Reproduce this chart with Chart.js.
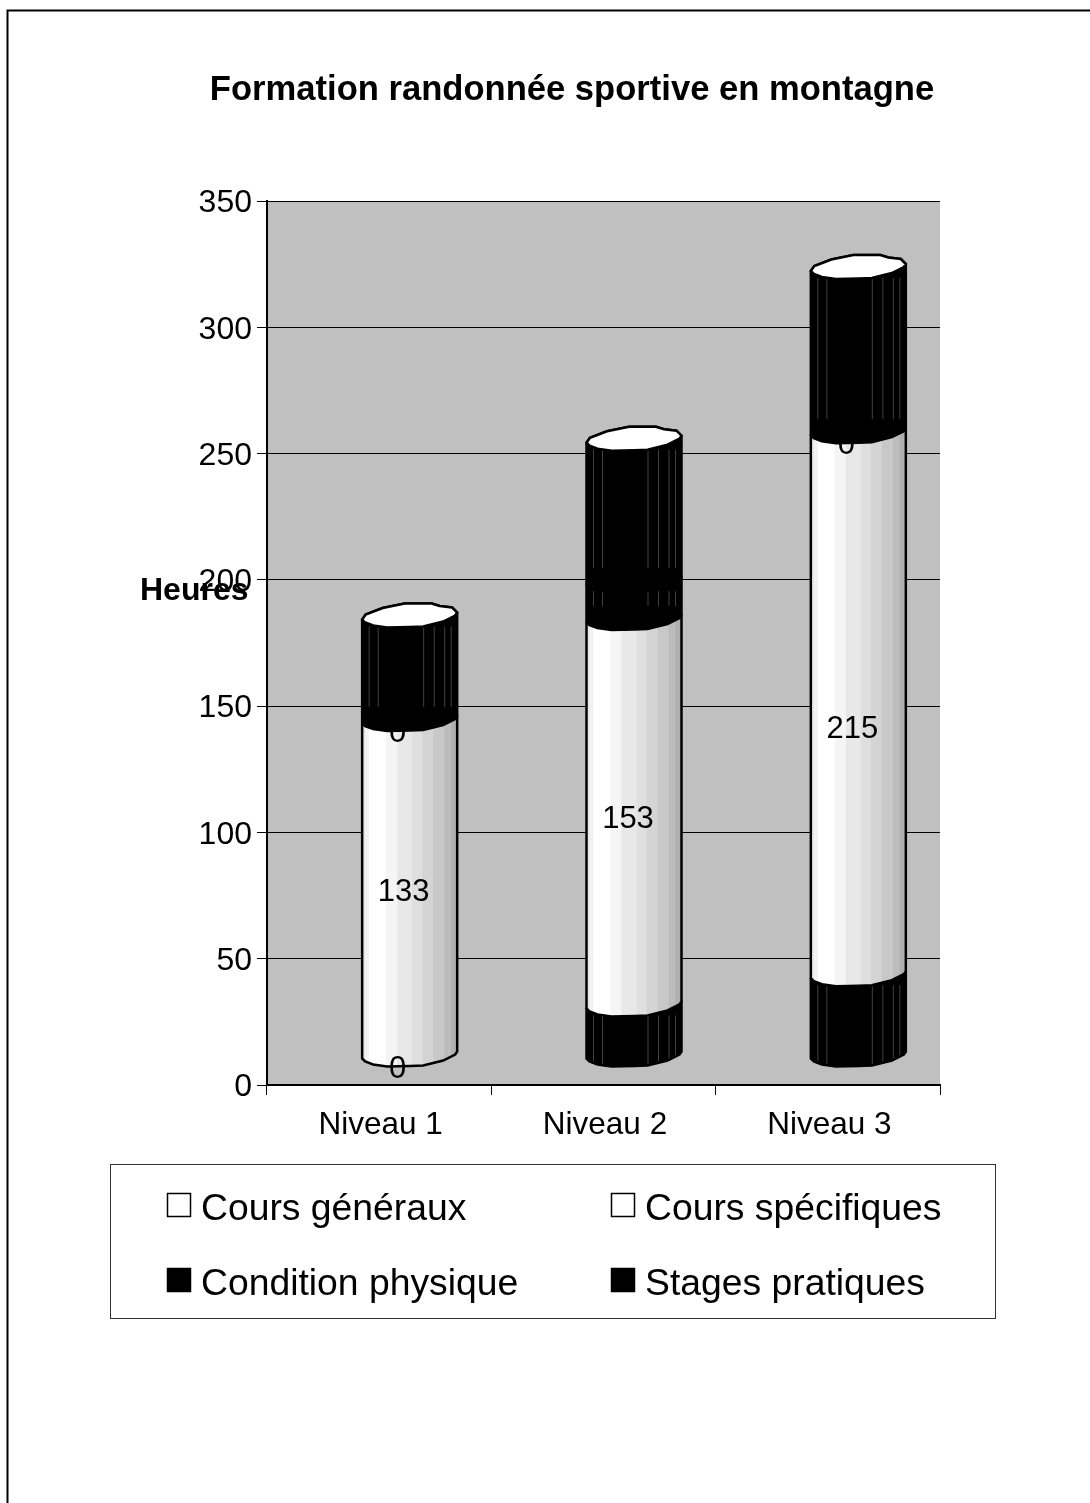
<!DOCTYPE html>
<html>
<head>
<meta charset="utf-8">
<title>Formation randonnée sportive en montagne</title>
<script src="https://cdn.jsdelivr.net/npm/chart.js@4"></script>
<style>
  html, body { margin: 0; padding: 0; background: #fff; }
  canvas { display: block; }
</style>
</head>
<body>
<canvas id="chart" width="1090" height="1503"></canvas>
<script>
const niveaux = ['Niveau 1', 'Niveau 2', 'Niveau 3'];
const seriesNames = ['Cours généraux', 'Cours spécifiques', 'Condition physique', 'Stages pratiques'];
const coursGeneraux = [0, 20, 32];
const coursSpecifiques = [133, 153, 215];
const conditionPhysique = [0, 15, 0];
const stagesPratiques = [41, 56, 65];
const yTicks = [0, 50, 100, 150, 200, 250, 300, 350];

const FONT = '"Liberation Sans", Arial, sans-serif';
const legendFill = ['#fff', '#fff', '#000', '#000'];
const segmentTone = ['black', 'white', 'black', 'black'];

// the 3D look: columns sit up and to the right of the axis
const DEPTH_X = 30.5;
const DEPTH_Y = -30;

// outline of the cap, from the reference, relative to a half width of 47.5
const capFront = [[-47.5, 4], [-44.5, 7], [-36.5, 10], [-22.5, 12], [0.5, 11.5], [13.5, 11], [33.5, 6], [45.5, 0], [47.5, -3]];
const capBack = [[47.5, -3], [42.5, -8], [30, -9.5], [22, -12], [-5, -12], [-27, -7.5], [-44, -1], [-47.5, 4]];

const whiteBands = [
  [-47.5, '#e8e8e8'], [-44.5, '#f2f2f2'], [-40.5, '#ffffff'], [-23.5, '#f5f5f5'], [-12.5, '#e8e8e8'],
  [2.5, '#dfdfdf'], [12.5, '#d4d4d4'], [23.5, '#c8c8c8'], [34.5, '#bcbcbc'], [41.5, '#b0b0b0']
];
const blackLines = [-41, -32, 13.5, 24, 34.5, 41];

function tracePoints(ctx, cx, cy, pts, first) {
  pts.forEach((p, i) => {
    if (i === 0 && first) ctx.moveTo(cx + p[0], cy + p[1]);
    else ctx.lineTo(cx + p[0], cy + p[1]);
  });
}

function drawSegment(ctx, bar, tone, isBottom) {
  const cx = bar.x + DEPTH_X;
  const top = bar.y + DEPTH_Y;
  const base = bar.base + DEPTH_Y;

  const body = () => {
    ctx.beginPath();
    tracePoints(ctx, cx, base, capFront, true);
    tracePoints(ctx, cx, top, capBack, false);
    ctx.closePath();
  };

  ctx.save();
  body();
  ctx.save();
  ctx.clip();
  if (tone === 'white') {
    whiteBands.forEach(b => {
      ctx.fillStyle = b[1];
      ctx.fillRect(cx + b[0], top - 15, 96, base - top + 30);
    });
  } else {
    ctx.fillStyle = '#000';
    ctx.fillRect(cx - 48, top - 15, 96, base - top + 30);
    ctx.strokeStyle = '#404040';
    ctx.lineWidth = 1;
    blackLines.forEach(dx => {
      ctx.beginPath();
      ctx.moveTo(cx + dx + 0.5, top + 11);
      ctx.lineTo(cx + dx + 0.5, isBottom ? base + 12 : base - 12);
      ctx.stroke();
    });
  }
  ctx.restore();
  body();
  ctx.strokeStyle = '#000';
  ctx.lineWidth = 2.5;
  ctx.stroke();
  ctx.restore();
}

function drawCap(ctx, bar) {
  const cx = bar.x + DEPTH_X;
  const top = bar.y + DEPTH_Y;
  ctx.beginPath();
  tracePoints(ctx, cx, top, capFront, true);
  tracePoints(ctx, cx, top, capBack, false);
  ctx.closePath();
  ctx.fillStyle = '#fff';
  ctx.fill();
  ctx.strokeStyle = '#000';
  ctx.lineWidth = 2.5;
  ctx.stroke();
}

const cylinders = {
  id: 'cylinders',
  beforeDatasetDraw() { return false; },
  afterDatasetsDraw(chart) {
    const ctx = chart.ctx;
    niveaux.forEach((_, c) => {
      let firstDone = false;
      let last = null;
      chart.data.datasets.forEach((ds, d) => {
        if (ds.data[c] === 0) return;
        const bar = chart.getDatasetMeta(d).data[c];
        drawSegment(ctx, bar, segmentTone[d], !firstDone);
        firstDone = true;
        last = bar;
      });
      drawCap(ctx, last);
    });

    // value labels, black on black for the dark segments like the reference
    ctx.save();
    ctx.font = '31px ' + FONT;
    ctx.fillStyle = '#000';
    ctx.textAlign = 'center';
    ctx.textBaseline = 'middle';
    chart.data.datasets.forEach((ds, d) => {
      ds.data.forEach((v, c) => {
        const bar = chart.getDatasetMeta(d).data[c];
        const mid = (bar.y + bar.base) / 2 + DEPTH_Y;
        const x = bar.x + DEPTH_X + (v === 0 ? -12 : -6);
        const y = mid + (v === 0 ? 14 : (v === 215 ? 27 : (v === 153 ? 8 : 6)));
        ctx.fillText(String(v), x, y);
      });
    });
    ctx.restore();
  }
};

const decorations = {
  id: 'decorations',
  // the y scale is kept narrow so the title stays centred where it should,
  // its tick labels must still be allowed to stick out on the left
  afterLayout(chart) {
    chart.scales.y.left = 180;
  },
  beforeDraw(chart) {
    const ctx = chart.ctx;
    const a = chart.chartArea;
    ctx.save();
    ctx.fillStyle = '#fff';
    ctx.fillRect(0, 0, chart.width, chart.height);
    // page frame, only top and left are visible
    ctx.strokeStyle = '#000';
    ctx.lineWidth = 2;
    ctx.beginPath();
    ctx.moveTo(7.5, chart.height);
    ctx.lineTo(7.5, 10.5);
    ctx.lineTo(chart.width, 10.5);
    ctx.stroke();
    ctx.fillStyle = '#c0c0c0';
    ctx.fillRect(a.left, a.top, a.right - a.left, a.bottom - a.top);
    ctx.restore();
  },
  afterDraw(chart) {
    const ctx = chart.ctx;
    ctx.save();
    // horizontal axis title
    ctx.font = 'bold 32px ' + FONT;
    ctx.fillStyle = '#000';
    ctx.textBaseline = 'middle';
    ctx.textAlign = 'left';
    ctx.fillText('Heures', 140, 591);

    // legend box
    ctx.strokeStyle = '#333';
    ctx.lineWidth = 1;
    ctx.strokeRect(110.5, 1164.5, 885, 154);
    ctx.font = '37.3px ' + FONT;
    seriesNames.forEach((name, i) => {
      const x = i % 2 === 0 ? 167 : 611;
      const y = i < 2 ? 1193 : 1268;
      ctx.fillStyle = legendFill[i];
      ctx.fillRect(x + 0.5, y + 0.5, 23, 23);
      ctx.strokeStyle = '#000';
      ctx.lineWidth = 1.5;
      ctx.strokeRect(x + 0.5, y + 0.5, 23, 23);
      ctx.fillStyle = '#000';
      ctx.fillText(name, x + 34, y + 17);
    });
    ctx.restore();
  }
};

new Chart(document.getElementById('chart'), {
  type: 'bar',
  data: {
    labels: niveaux,
    datasets: [coursGeneraux, coursSpecifiques, conditionPhysique, stagesPratiques].map((values, i) => ({
      label: seriesNames[i],
      data: values,
      categoryPercentage: 1,
      barPercentage: 0.424,
      backgroundColor: legendFill[i]
    }))
  },
  options: {
    responsive: false,
    animation: false,
    devicePixelRatio: 1,
    layout: { padding: { left: 204, right: 150, top: 70, bottom: 358 } },
    plugins: {
      legend: { display: false },
      tooltip: { enabled: false },
      title: {
        display: true,
        text: 'Formation randonnée sportive en montagne',
        color: '#000',
        font: { family: FONT, size: 34.6, weight: 'bold' },
        padding: { top: 0, bottom: 89.5 }
      }
    },
    scales: {
      x: {
        stacked: true,
        afterFit(scale) { scale.height = 60; },
        grid: { drawOnChartArea: false, color: '#000', tickLength: 10, tickWidth: 1 },
        border: { color: '#000', width: 2 },
        ticks: { color: '#000', font: { family: FONT, size: 31.5 }, padding: 11, maxRotation: 0, labelOffset: 1.5 }
      },
      y: {
        stacked: true,
        min: 0,
        max: 350,
        afterFit(scale) { scale.width = 63; },
        afterBuildTicks(scale) { scale.ticks = yTicks.map(v => ({ value: v })); },
        grid: { color: '#000', tickLength: 10, lineWidth: 1 },
        border: { color: '#000', width: 2 },
        ticks: { color: '#000', font: { family: FONT, size: 32 }, padding: 5, labelOffset: 2.5 }
      }
    }
  },
  plugins: [decorations, cylinders]
});
</script>
</body>
</html>
